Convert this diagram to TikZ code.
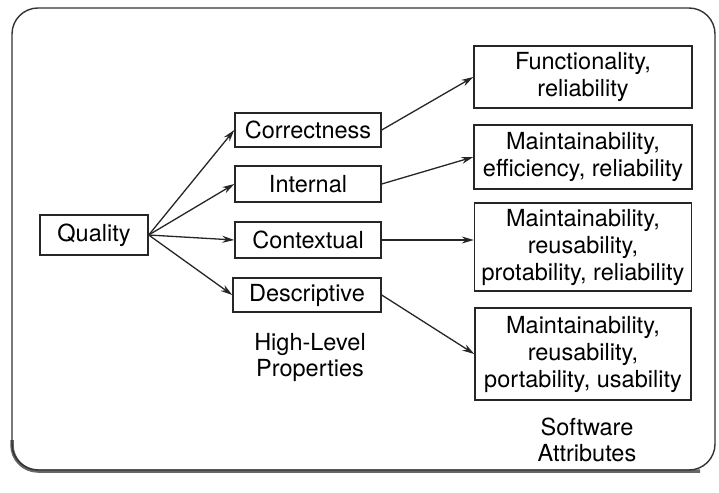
\documentclass[tikz,border=0pt]{standalone}
\usepackage{fontspec}
\setmainfont{TeX Gyre Heros}
\usetikzlibrary{arrows.meta}

\tikzset{
  attr/.style={draw=black!85, line width=1.4pt, align=center, inner sep=0pt,
    font=\fontsize{23.5}{27}\selectfont},
  lbl/.style={align=center, inner sep=0pt, font=\fontsize{23.5}{26}\selectfont},
  arr/.style={-{Stealth[length=12pt,width=7pt]}, line width=1.3pt, draw=black!85}
}

\begin{document}
\begin{tikzpicture}[x=1pt,y=-1pt]
\useasboundingbox (0,0) rectangle (719,492);
\fill[white] (0,0) rectangle (719,492);
\draw[line width=3.5pt, black!60, rounded corners=26pt] (12,440) -- (12,471) -- (700,471);
\draw[line width=1.4pt, black!80, rounded corners=26pt] (12,8) rectangle (715,470);

\node[attr, minimum width=108pt, minimum height=40pt] (quality) at (94,235) {Quality};
\node[attr, minimum width=146pt, minimum height=34pt] (correct) at (308,130) {Correctness};
\node[attr, minimum width=146pt, minimum height=36pt] (internal) at (308,184) {Internal};
\node[attr, minimum width=146pt, minimum height=36pt] (context) at (308,240) {Contextual};
\node[attr, minimum width=148pt, minimum height=34pt] (descr) at (307,295) {Descriptive};
\node[lbl] (hlp) at (310,357) {High-Level\\Properties};

\node[attr, minimum width=218pt, minimum height=62pt] (funcrel) at (583,77) {Functionality,\\reliability};
\node[attr, minimum width=218pt, minimum height=64pt] (maineff) at (583,157) {Maintainability,\\efficiency, reliability};
\node[attr, minimum width=217pt, minimum height=88pt] (mainrel) at (583,247) {Maintainability,\\reusability,\\protability, reliability};
\node[attr, minimum width=216pt, minimum height=92pt] (mainuse) at (583,354) {Maintainability,\\reusability,\\portability, usability};
\node[lbl] (swattr) at (587,440) {Software\\Attributes};

\draw[arr] (quality.east) -- (correct.west);
\draw[arr] (quality.east) -- (internal.west);
\draw[arr] (quality.east) -- (context.west);
\draw[arr] (quality.east) -- (descr.west);
\draw[arr] (correct.east) -- (funcrel.west);
\draw[arr] (internal.east) -- (maineff.west);
\draw[arr] (context.east) -- (context.east -| mainrel.west);
\draw[arr] (descr.east) -- (mainuse.west);
\end{tikzpicture}
\end{document}
